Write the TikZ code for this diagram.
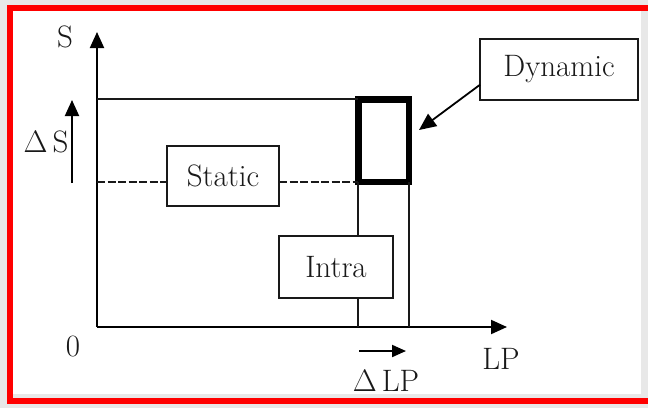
\RequirePackage{fix-cm}
\documentclass[tikz,border=0pt]{standalone}
\usetikzlibrary{arrows.meta,calc}
\tikzset{
  box/.style={draw=black!90, line width=1.6pt, inner sep=0pt, outer sep=0pt, fill=white},
  thin/.style={draw=black!90, line width=1.6pt},
  axis/.style={draw=black, line width=2pt, -{Triangle[length=16pt,width=14pt]}},
  lbl/.style={inner sep=0pt, text=black!90, font=\fontsize{31}{35}\selectfont},
}
\begin{document}
\begin{tikzpicture}[x=1pt,y=-1pt]
\useasboundingbox (0,0) rectangle (648,408);
\fill[black!9] (0,0) rectangle (648,408);
\fill[white] (12,11) rectangle (641,394);
\draw[red, line width=6pt] (648,8) -- (10,8) -- (10,401) -- (648,401);
% axes
\coordinate (O) at (97,327);
\coordinate (ytip) at (97,32);
\coordinate (xtip) at (507,327);
\draw[axis] (O) -- (ytip);
\draw[axis] (O) -- (xtip);
% thick dynamic rectangle
\node[draw=black, line width=6.5pt, outer sep=0pt, inner sep=0pt, minimum width=50.5pt, minimum height=82.5pt] (thk) at (383.5,140.5) {};
% boxes
\node[box, lbl, minimum width=112pt, minimum height=60pt] (static) at (223,176) {Static};
\node[box, lbl, minimum width=114pt, minimum height=62pt] (intra) at (336,267) {Intra};
\node[box, lbl, minimum width=158pt, minimum height=61pt] (dyn) at (559,69.5) {Dynamic};
% lines
\draw[thin] (O |- thk.north west) -- (thk.north west);
\draw[thin, dash pattern=on 8pt off 2.5pt] (O |- thk.south west) -- (static.west |- thk.south west);
\draw[thin, dash pattern=on 8pt off 2.5pt] (static.east |- thk.south west) -- (thk.south west);
\draw[thin] (thk.south west) -- (intra.north -| thk.south west);
\draw[thin] (intra.south -| thk.south west) -- (thk.south west |- O);
\draw[thin] (thk.south east) -- (thk.south east |- O);
% dynamic arrow
\coordinate (dtip) at (419,130);
\draw[axis, line width=1.8pt, -{Triangle[length=17pt,width=15pt]}] ($(dyn.south west)!0.25!(dyn.north west)$) -- (dtip);
% delta arrows
\coordinate (dsb) at (72,183);
\coordinate (dst) at (72,100);
\draw[axis] (dsb) -- (dst);
\coordinate (dla) at (359,351);
\coordinate (dlb) at (406,351);
\draw[axis, -{Triangle[length=14pt,width=12pt]}] (dla) -- (dlb);
% labels
\node[lbl] (lS) at (65,37) {S};
\node[lbl] (lDS) at (46,142) {$\Delta$\,S};
\node[lbl] (l0) at (73,346) {0};
\node[lbl] (lLP) at (501,359) {LP};
\node[lbl] (lDLP) at (386,381) {$\Delta$\,LP};
\end{tikzpicture}
\end{document}
